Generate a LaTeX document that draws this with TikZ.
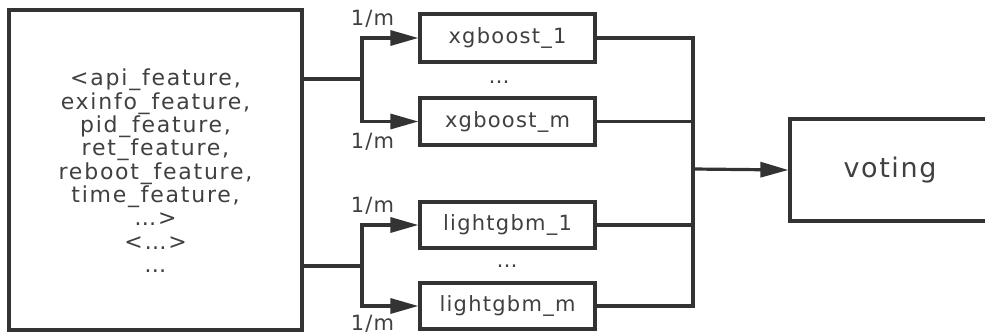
\documentclass[tikz,border=0pt]{standalone}
\usepackage{fontspec}
\setmainfont{DejaVu Sans}[LetterSpace=6]
\usetikzlibrary{arrows.meta}
\definecolor{ln}{HTML}{333333}
\definecolor{tx}{HTML}{404040}
\tikzset{
  box/.style={draw=ln, line width=3.2pt, inner sep=0pt, text=tx, font=\fontsize{21}{23}\selectfont},
  conn/.style={draw=ln, line width=3.2pt},
  arr/.style={conn, -{Triangle[length=28pt,width=15pt]}},
  lbl/.style={text=tx, font=\fontsize{21}{23}\selectfont, inner sep=0pt, anchor=base},
}
\begin{document}
\begin{tikzpicture}[x=1pt,y=-1pt]
\useasboundingbox (0,0) rectangle (985,335);
% left input box
\node[box, line width=3.4pt, minimum width=293pt, minimum height=320pt] (in) at (155.5,170) {};
\node[text=tx, font=\fontsize{22}{23.3}\addfontfeatures{LetterSpace=8}\selectfont, align=center, inner sep=0pt, anchor=north] (feat) at (155.5,69)
 {<api\_feature,\\exinfo\_feature,\\pid\_feature,\\ret\_feature,\\reboot\_feature,\\time\_feature,\\…>\\<…>\\…};
% model boxes
\node[box, minimum width=175pt, minimum height=48pt] (x1) at (507.5,38) {xgboost\_1};
\node[box, minimum width=175pt, minimum height=47pt] (xm) at (507.5,121.5) {xgboost\_m};
\node[box, minimum width=175pt, minimum height=46pt] (l1) at (507.5,225) {lightgbm\_1};
\node[box, minimum width=175pt, minimum height=46pt] (lm) at (507.5,306) {lightgbm\_m};
\node[box, minimum width=200pt, minimum height=102pt, font=\fontsize{27}{30}\selectfont] (vote) at (890,170) {voting};
% dots
\node[lbl] (d1) at (499,83) {…};
\node[lbl] (d2) at (507,267) {…};
% labels
\node[lbl] (la) at (372.5,25) {1/m};
\node[lbl] (lb) at (372.5,148) {1/m};
\node[lbl] (lc) at (372.5,212) {1/m};
\node[lbl] (ld) at (372.5,330) {1/m};
% branches
\coordinate (s1) at (362,79);
\coordinate (s2) at (362,266);
\draw[conn] (in.east |- s1) -- (s1);
\draw[conn] (in.east |- s2) -- (s2);
\draw[arr] (s1) |- (x1.west);
\draw[arr] (s1) |- (xm.west);
\draw[arr] (s2) |- (l1.west);
\draw[arr] (s2) |- (lm.west);
% merge
\coordinate (m) at (693,169);
\draw[conn] (x1.east) -| (m);
\draw[conn] (xm.east) -| (m);
\draw[conn] (l1.east) -| (m);
\draw[conn] (lm.east) -| (m);
\draw[arr] (m) -- (vote.west);
\end{tikzpicture}
\end{document}
